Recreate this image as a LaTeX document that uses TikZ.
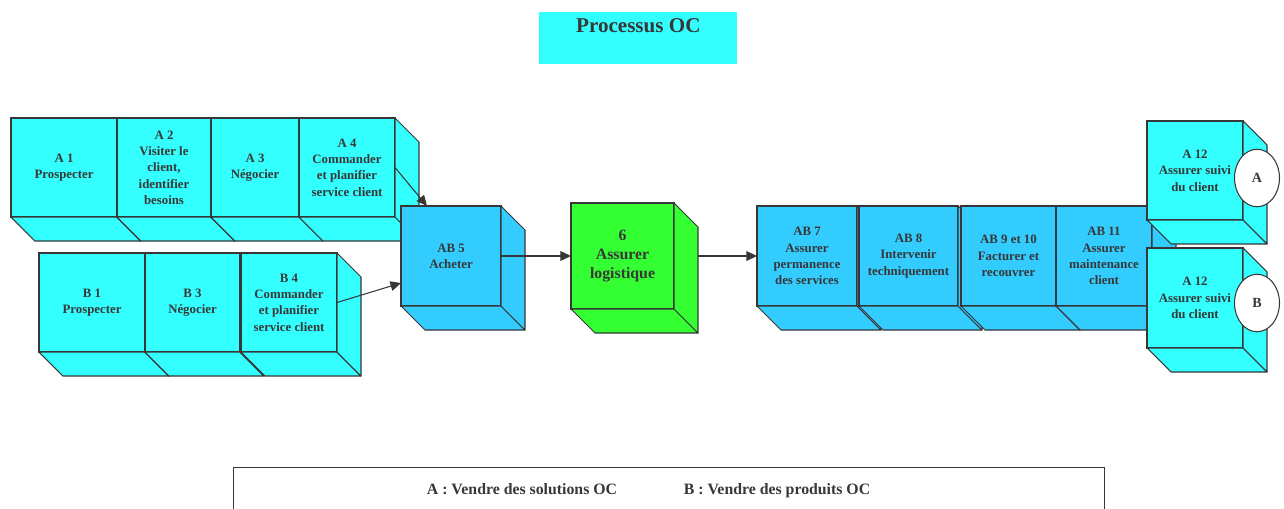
\documentclass[tikz,border=0pt]{standalone}
\usepackage{fontspec}
\setmainfont{Liberation Serif}
\usetikzlibrary{arrows.meta, calc, shapes.geometric}
\definecolor{turquoise}{RGB}{51,255,255}
\definecolor{bleu}{RGB}{51,204,255}
\definecolor{vert}{RGB}{51,255,51}
\definecolor{trait}{RGB}{55,55,55}

% bloc en relief : [options]{nom}{x}{y}{largeur}{hauteur}{couleur}{texte}
\newcommand{\bloc}[8][]{%
  \node[face, #1, fill=#7, minimum width=#5*0.02cm, minimum height=#6*0.02cm] (#2) at (#3,#4) {#8};
  \draw[arete, fill=#7] (#2.south west) -- ++(24,24) -- ++(#5,0) -- (#2.south east) -- cycle;
  \draw[arete, fill=#7] (#2.north east) -- ++(24,24) -- ++(0,#6) -- (#2.south east) -- cycle;
}

\begin{document}
\begin{tikzpicture}[x=0.02cm, y=-0.02cm,
    face/.style={draw=trait, line width=0.6pt, anchor=north west, inner sep=0pt, outer sep=0pt, align=center, text=trait, font=\bfseries\fontsize{7.3}{9.3}\selectfont},
    arete/.style={draw=trait, line width=0.6pt, line join=round},
    fleche/.style={draw=trait, line width=0.6pt, -{Triangle[length=6pt, width=5.5pt]}},
    rond/.style={ellipse, draw=trait, line width=0.6pt, fill=white, minimum width=0.9cm, minimum height=1.15cm, inner sep=0pt, text=trait, font=\bfseries\fontsize{8}{9}\selectfont},
    legtxt/.style={anchor=base, text=trait, font=\bfseries\fontsize{9}{11}\selectfont}]

    \useasboundingbox (0,0) rectangle (1284,508);

    % titre
    \node[fill=turquoise, anchor=north west, inner sep=0pt, minimum width=3.96cm, minimum height=1.04cm] (titre) at (539,12) {};
    \node[text=trait, font=\bfseries\fontsize{12}{14}\selectfont] (titretxt) at ($(titre.north)+(0,14)$) {Processus OC};

    % ligne A
    \bloc{a1}{11}{118}{106}{99}{turquoise}{A 1\\Prospecter}
    \bloc{a2}{117}{118}{94}{99}{turquoise}{A 2\\Visiter le\\client,\\identifier\\besoins}
    \bloc{a3}{211}{118}{88}{99}{turquoise}{A 3\\Négocier}
    \bloc{a4}{299}{118}{96}{99}{turquoise}{A 4\\Commander\\et planifier\\service client}

    % ligne B
    \bloc{b1}{39}{253}{106}{99}{turquoise}{B 1\\Prospecter}
    \bloc{b3}{145}{253}{95}{99}{turquoise}{B 3\\Négocier}
    \bloc{b4}{241}{253}{96}{99}{turquoise}{B 4\\Commander\\et planifier\\service client}

    % achat et logistique
    \bloc{ab5}{401}{206}{100}{100}{bleu}{AB 5\\Acheter}
    \bloc[font=\bfseries\fontsize{9}{10.8}\selectfont]{log}{571}{203}{103}{106}{vert}{6\\Assurer\\logistique}

    % ligne AB
    \bloc{ab7}{757}{206}{100}{100}{bleu}{AB 7\\Assurer\\permanence\\des services}
    \bloc{ab8}{859}{206}{99}{100}{bleu}{AB 8\\Intervenir\\techniquement}
    \bloc{ab9}{961}{206}{95}{100}{bleu}{AB 9 et 10\\Facturer et\\recouvrer}
    \bloc{ab11}{1056}{206}{96}{100}{bleu}{AB 11\\Assurer\\maintenance\\client}

    % suivi client
    \bloc{a12a}{1147}{121}{96}{99}{turquoise}{A 12\\Assurer suivi\\du client}
    \bloc{a12b}{1147}{248}{96}{100}{turquoise}{A 12\\Assurer suivi\\du client}
    \node[rond] (ra) at (1257,178) {A};
    \node[rond] (rb) at (1257,303) {B};

    % fleches
    \draw[fleche] (a4.east) -- ($(ab5.north west)+(26,0)$);
    \draw[fleche] (b4.east) -- ($(ab5.west)+(0,27)$);
    \draw[fleche] (ab5.east) -- (log.west);
    \draw[fleche] ($(log.east)+(24,0)$) -- (ab7.west);

    % legende
    \node[draw=trait, line width=0.6pt, anchor=north west, inner sep=0pt, minimum width=17.42cm, minimum height=1.2cm] (legende) at (233,467) {};
    \node[legtxt] (lega) at (522,494) {A : Vendre des solutions OC};
    \node[legtxt] (legb) at (777,494) {B : Vendre des produits OC};

\end{tikzpicture}
\end{document}
